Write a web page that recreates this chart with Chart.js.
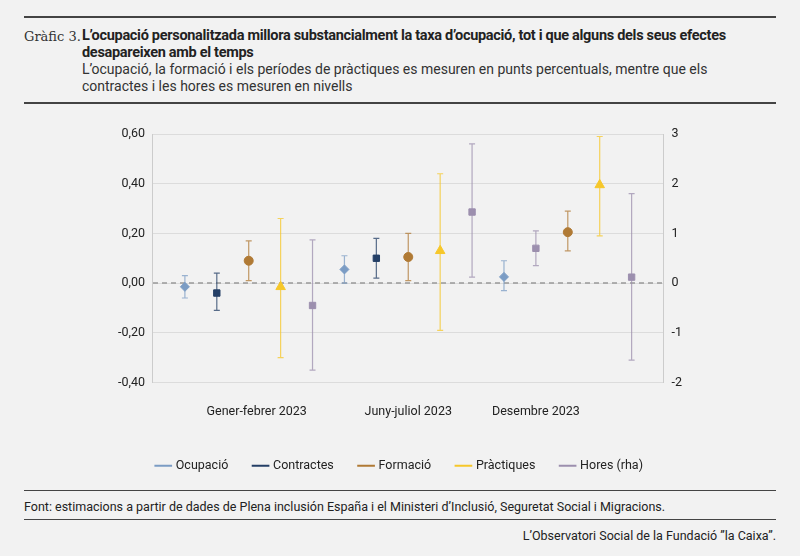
<!DOCTYPE html>
<html><head><meta charset="utf-8">
<script src="https://cdn.jsdelivr.net/npm/chart.js@4"></script>
<style>
body{margin:0;background:#f2f2f2;font-family:Roboto,"Liberation Sans",sans-serif;color:#222;width:800px;height:556px;position:relative;overflow:hidden}
.rule{position:absolute;left:24px;right:24px;height:2px;background:#444}
#hdr{position:absolute;left:24px;top:27px;width:760px}
#lab{position:absolute;left:0;top:2px;font-family:"DejaVu Serif","Liberation Serif",serif;font-size:13px;color:#333}
#ttl{margin-left:58px;width:680px;font-weight:bold;font-size:14.5px;line-height:17px;letter-spacing:-0.3px}
#sub{margin-left:58px;width:660px;font-size:14px;line-height:17px;color:#333}
#wrap{position:absolute;left:0;top:110px;width:800px;height:372px}
#font{position:absolute;left:24px;top:499px;font-size:12.5px}
#cred{position:absolute;right:24px;top:528px;font-size:12.5px}
</style></head><body>
<div class="rule" style="top:16px"></div>
<div id="hdr"><div id="lab">Gràfic 3.</div>
<div id="ttl">L’ocupació personalitzada millora substancialment la taxa d’ocupació, tot i que alguns dels seus efectes desapareixen amb el temps</div>
<div id="sub">L’ocupació, la formació i els períodes de pràctiques es mesuren en punts percentuals, mentre que els contractes i les hores es mesuren en nivells</div></div>
<div class="rule" style="top:102px"></div>
<div id="wrap"><canvas id="c"></canvas></div>
<div class="rule" style="top:490px;height:1px"></div>
<div id="font">Font: estimacions a partir de dades de Plena inclusión España i el Ministeri d’Inclusió, Seguretat Social i Migracions.</div>
<div class="rule" style="top:519px;height:1px"></div>
<div id="cred">L’Observatori Social de la Fundació ”la Caixa”.</div>
<script>
const periods = ['Gener-febrer 2023', 'Juny-juliol 2023', 'Desembre 2023'];
const periodTickPos = [3.25, 8, 12];
const seriesNames = ['Ocupació', 'Contractes', 'Formació', 'Pràctiques', 'Hores (rha)'];
// point estimate, upper, lower per period (Hores on right axis)
const ocupacio = [-0.015, 0.055, 0.025];
const ocupacioHi = [0.03, 0.11, 0.09];
const ocupacioLo = [-0.06, 0.0, -0.03];
const contractes = [-0.04, 0.10, 0.14];
const contractesHi = [0.04, 0.18, 0.21];
const contractesLo = [-0.11, 0.02, 0.07];
const formacio = [0.09, 0.105, 0.205];
const formacioHi = [0.17, 0.20, 0.29];
const formacioLo = [0.01, 0.01, 0.13];
const practiques = [-0.015, 0.13, 0.395];
const practiquesHi = [0.26, 0.44, 0.59];
const practiquesLo = [-0.30, -0.19, 0.19];
const hores = [-0.45, 1.43, 0.12];
const horesHi = [0.87, 2.8, 1.8];
const horesLo = [-1.75, 0.12, -1.55];
const leftTicks = [-0.4, -0.2, 0, 0.2, 0.4, 0.6];
const rightTicks = [-2, -1, 0, 1, 2, 3];

const colors = ['#7b9cc4', '#243f66', '#b07a35', '#f6c72a', '#9c8fae'];
const styles = ['rectRot', 'rect', 'circle', 'triangle', 'rect'];
const vals = [ocupacio, contractes, formacio, practiques, hores];
const his = [ocupacioHi, contractesHi, formacioHi, practiquesHi, horesHi];
const los = [ocupacioLo, contractesLo, formacioLo, practiquesLo, horesLo];

const datasets = seriesNames.map((n, s) => ({
  label: n,
  data: vals[s].map((v, g) => ({x: g * 5 + s + 1, y: v, hi: his[s][g], lo: los[s][g]})),
  yAxisID: s === 4 ? 'y2' : 'y',
  pointStyle: styles[s],
  // the desembre contractes marker is drawn in the hores colour in the source
  pointBackgroundColor: vals[s].map((v, g) => (s === 1 && g === 2) ? colors[4] : colors[s]),
  pointBorderColor: vals[s].map((v, g) => (s === 1 && g === 2) ? colors[4] : colors[s]),
  barColor: vals[s].map((v, g) => (s === 1 && g === 2) ? colors[4] : colors[s]),
  borderColor: colors[s],
  backgroundColor: colors[s],
  pointRadius: s === 3 ? 5.5 : 4.5,
  showLine: false
}));

const errorBars = {
  id: 'errorBars',
  beforeDatasetsDraw(chart) {
    const c = chart.ctx, xs = chart.scales.x;
    const a = chart.chartArea;
    c.save();
    c.strokeStyle = '#999'; c.lineWidth = 1.5; c.setLineDash([5, 4]);
    const z = chart.scales.y.getPixelForValue(0);
    c.beginPath(); c.moveTo(a.left, z); c.lineTo(a.right, z); c.stroke();
    c.setLineDash([]);
    chart.data.datasets.forEach(ds => {
      const ys = chart.scales[ds.yAxisID];
      ds.data.forEach((p, i) => {
        const x = xs.getPixelForValue(p.x);
        const t = ys.getPixelForValue(p.hi), b = ys.getPixelForValue(p.lo);
        c.strokeStyle = ds.barColor[i]; c.globalAlpha = 0.75; c.lineWidth = 1.2;
        c.beginPath();
        c.moveTo(x, t); c.lineTo(x, b);
        c.moveTo(x - 3, t); c.lineTo(x + 3, t);
        c.moveTo(x - 3, b); c.lineTo(x + 3, b);
        c.stroke();
      });
    });
    c.restore();
  }
};

new Chart(document.getElementById('c'), {
  type: 'scatter',
  data: {datasets},
  plugins: [errorBars],
  options: {
    responsive: true, maintainAspectRatio: false, animation: false,
    layout: {padding: {left: 110, right: 110, top: 24, bottom: 0}},
    scales: {
      x: {type: 'linear', min: 0, max: 16,
        afterBuildTicks: ax => { ax.ticks = periodTickPos.map(v => ({value: v})); },
        ticks: {color: '#222', font: {size: 12.5, family: 'Roboto'}, padding: 14,
          callback: (v, i) => periods[i]},
        grid: {display: false}, border: {display: false}},
      y: {min: -0.4, max: 0.6, position: 'left',
        afterBuildTicks: ax => { ax.ticks = leftTicks.map(v => ({value: v})); },
        ticks: {color: '#222', font: {size: 12.5, family: 'Roboto'}, padding: 8,
          callback: v => v.toFixed(2).replace('.', ',')},
        grid: {color: '#dcdcdc', drawTicks: false}, border: {color: '#ccc'}},
      y2: {min: -2, max: 3, position: 'right',
        afterBuildTicks: ax => { ax.ticks = rightTicks.map(v => ({value: v})); },
        ticks: {color: '#222', font: {size: 12.5, family: 'Roboto'}, padding: 8},
        grid: {display: false, drawTicks: false}, border: {color: '#ccc'}}
    },
    plugins: {
      tooltip: {enabled: false},
      legend: {position: 'bottom',
        labels: {usePointStyle: true, boxWidth: 18, padding: 26, color: '#222', font: {size: 12.5, family: 'Roboto'},
          generateLabels: ch => ch.data.datasets.map((d, i) => ({
            text: d.label, pointStyle: 'line', strokeStyle: colors[i], fillStyle: colors[i],
            lineWidth: 2, datasetIndex: i, fontColor: '#222'}))}}
    }
  }
});
</script></body></html>
